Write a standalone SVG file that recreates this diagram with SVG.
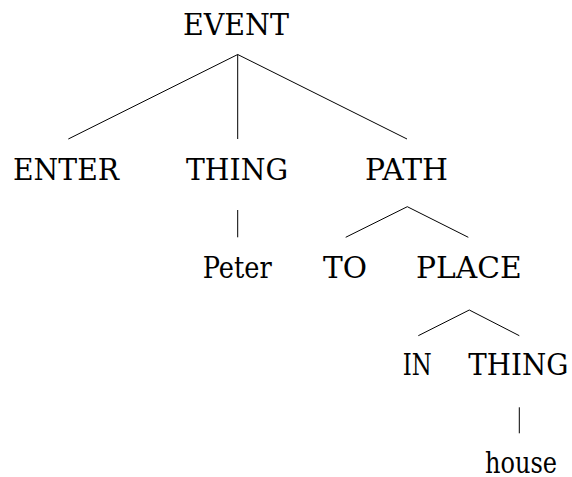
<svg xmlns="http://www.w3.org/2000/svg" width="572" height="477" viewBox="0 0 572 477">
  <style>
    .lbl { font-size: 29px; fill: #000; text-anchor: middle; }
    .edge { stroke: #000; stroke-width: 1; fill: none; stroke-linecap: butt; }
  </style>
  <rect width="572" height="477" fill="#fff"/>

  <!-- tree edges -->
  <g id="connectors">
    <line class="edge" x1="237.7" y1="54.5" x2="68.3" y2="139"/>
    <line class="edge" x1="237.7" y1="54.5" x2="237.7" y2="139"/>
    <line class="edge" x1="237.7" y1="54.5" x2="407" y2="139"/>
    <line class="edge" x1="237.7" y1="210" x2="237.7" y2="237.3"/>
    <line class="edge" x1="407.3" y1="206.7" x2="345.7" y2="237.3"/>
    <line class="edge" x1="407.3" y1="206.7" x2="468.3" y2="237.3"/>
    <line class="edge" x1="469.3" y1="310" x2="418.3" y2="335.7"/>
    <line class="edge" x1="469.3" y1="310" x2="519.3" y2="335.7"/>
    <line class="edge" x1="519.3" y1="407.3" x2="519.3" y2="433.3"/>
  </g>

  <!-- tree nodes -->
  <g font-family="DejaVu Serif, Liberation Serif, serif">
    <g id="n-event"><text class="lbl" x="236" y="35" textLength="106" lengthAdjust="spacingAndGlyphs">EVENT</text></g>
    <g id="n-enter"><text class="lbl" x="66" y="180" textLength="106" lengthAdjust="spacingAndGlyphs">ENTER</text></g>
    <g id="n-thing"><text class="lbl" x="237" y="180" textLength="102" lengthAdjust="spacingAndGlyphs">THING</text></g>
    <g id="n-path"><text class="lbl" x="406.5" y="180" textLength="83" lengthAdjust="spacingAndGlyphs">PATH</text></g>
    <g id="n-peter"><text class="lbl" x="237.2" y="278" textLength="69" lengthAdjust="spacingAndGlyphs">Peter</text></g>
    <g id="n-to"><text class="lbl" x="345" y="278" textLength="44" lengthAdjust="spacingAndGlyphs">TO</text></g>
    <g id="n-place"><text class="lbl" x="468.8" y="278" textLength="105.7" lengthAdjust="spacingAndGlyphs">PLACE</text></g>
    <g id="n-in"><text class="lbl" x="417.2" y="375" textLength="29" lengthAdjust="spacingAndGlyphs">IN</text></g>
    <g id="n-thing2"><text class="lbl" x="518.3" y="375" textLength="100" lengthAdjust="spacingAndGlyphs">THING</text></g>
    <g id="n-house"><text class="lbl" x="521" y="473" textLength="72" lengthAdjust="spacingAndGlyphs">house</text></g>
  </g>
</svg>
